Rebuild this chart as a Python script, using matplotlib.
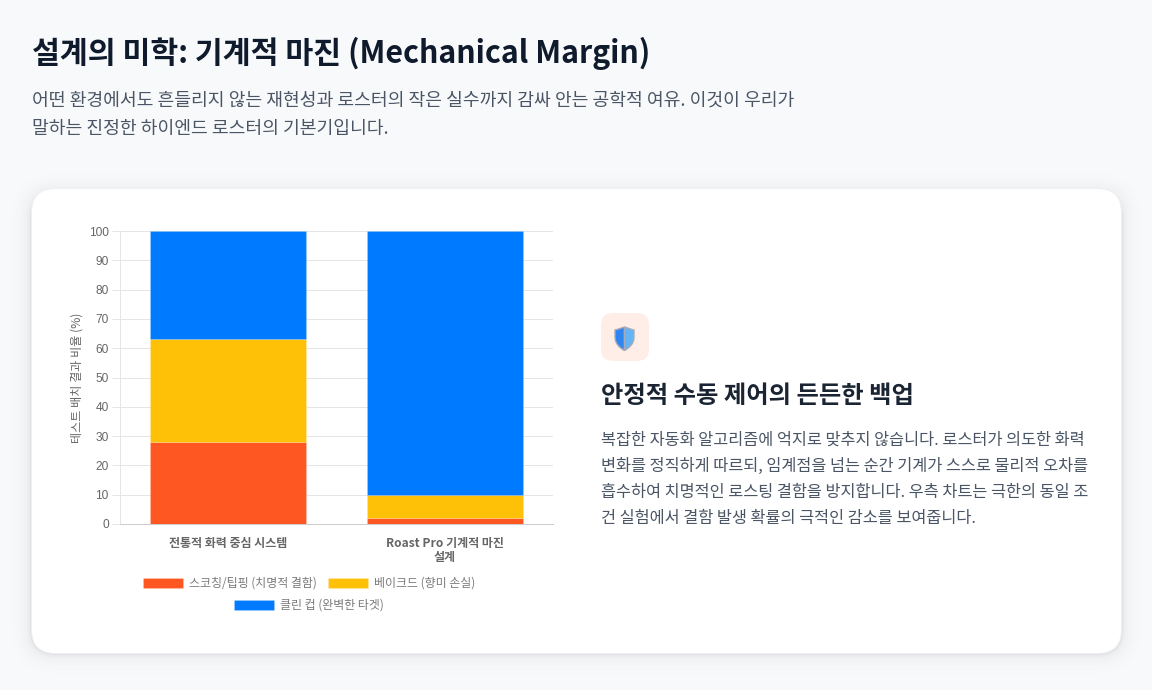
import matplotlib
matplotlib.use("Agg")
import matplotlib.pyplot as plt
from matplotlib.patches import FancyBboxPatch, PathPatch
from matplotlib.path import Path

plt.rcParams['font.family'] = ['Noto Sans CJK KR', 'DejaVu Sans']

categories = ['전통적 화력 중심 시스템', 'Roast Pro 기계적 마진\n설계']
scorching = [28, 2]
baked = [35, 8]
clean_cup = [37, 90]
series_names = ['스코칭/팁핑 (치명적 결함)', '베이크드 (향미 손실)', '클린 컵 (완벽한 타겟)']
series_colors = ['#FF5722', '#FFC107', '#007BFF']
y_ticks = list(range(0, 101, 10))

title = '설계의 미학: 기계적 마진 (Mechanical Margin)'
intro = ['어떤 환경에서도 흔들리지 않는 재현성과 로스터의 작은 실수까지 감싸 안는 공학적 여유. 이것이 우리가',
         '말하는 진정한 하이엔드 로스터의 기본기입니다.']
side_title = '안정적 수동 제어의 든든한 백업'
side_lines = ['복잡한 자동화 알고리즘에 억지로 맞추지 않습니다. 로스터가 의도한 화력',
              '변화를 정직하게 따르되, 임계점을 넘는 순간 기계가 스스로 물리적 오차를',
              '흡수하여 치명적인 로스팅 결함을 방지합니다. 우측 차트는 극한의 동일 조',
              '건 실험에서 결함 발생 확률의 극적인 감소를 보여줍니다.']

W, H = 1152, 690
fig = plt.figure(figsize=(W / 100, H / 100), dpi=100, facecolor='#F8F9FB')

# page layer in pixel coordinates, y pointing down
bg = fig.add_axes([0, 0, 1, 1], zorder=0)
bg.set_xlim(0, W)
bg.set_ylim(H, 0)
bg.axis('off')

# soft card shadow
for grow, alpha in [(20, 0.004), (16, 0.005), (12, 0.006), (9, 0.007), (6, 0.009), (4, 0.014), (2, 0.022), (1, 0.035)]:
    bg.add_patch(FancyBboxPatch((31.5 - grow, 193 - grow), 1090 + 2 * grow, 460.5 + 2 * grow,
                                boxstyle=f'round,pad=0,rounding_size={24 + grow}',
                                fc='black', ec='none', alpha=alpha))
bg.add_patch(FancyBboxPatch((31.5, 188.5), 1090, 465, boxstyle='round,pad=0,rounding_size=24',
                            fc='white', ec='#EEF0F3', lw=0.72))

bg.text(32, 53, title, fontsize=21.8, fontweight='bold', color='#0F1B2D', va='center')
bg.text(32, 101, intro[0], fontsize=13.15, color='#4A5565', va='center')
bg.text(32, 129, intro[1], fontsize=13.15, color='#4A5565', va='center')

# shield icon
bg.add_patch(FancyBboxPatch((601, 313), 48, 48, boxstyle='round,pad=0,rounding_size=12',
                            fc='#FFEEE8', ec='none'))
left = Path([(624.5, 327), (617, 329.5), (615, 330), (615, 337), (615, 344), (620, 348), (624.5, 350.5), (624.5, 327)],
            [Path.MOVETO, Path.LINETO, Path.LINETO, Path.LINETO, Path.CURVE4, Path.CURVE4, Path.CURVE4, Path.CLOSEPOLY])
right = Path([(624.5, 327), (632, 329.5), (634, 330), (634, 337), (634, 344), (629, 348), (624.5, 350.5), (624.5, 327)],
             [Path.MOVETO, Path.LINETO, Path.LINETO, Path.LINETO, Path.CURVE4, Path.CURVE4, Path.CURVE4, Path.CLOSEPOLY])
bg.add_patch(PathPatch(left, fc='#2F86F0', ec='#A9A9B8', lw=1.0))
bg.add_patch(PathPatch(right, fc='#64B5F6', ec='#A9A9B8', lw=1.0))

bg.text(601, 396, side_title, fontsize=17.5, fontweight='bold', color='#1A2433', va='center')
for i, line in enumerate(side_lines):
    bg.text(601, 440 + i * 26.3, line, fontsize=11.75, color='#4A5565', va='center')

# chart
ax = fig.add_axes([120 / W, 1 - 524 / H, (553 - 120) / W, (524 - 231) / H], zorder=1)
ax.patch.set_alpha(0)
x = range(len(categories))
bottom1 = scorching
bottom2 = [a + b for a, b in zip(scorching, baked)]
bars = []
for vals, bot, color, name in zip([scorching, baked, clean_cup], [None, bottom1, bottom2],
                                  series_colors, series_names):
    bars.append(ax.bar(x, vals, width=0.72, bottom=bot, color=color, label=name,
                       edgecolor=(1, 1, 1, 0.15), linewidth=0.72, zorder=2))
ax.set_xlim(-0.5, 1.5)
ax.set_ylim(0, 100)
ax.set_yticks(y_ticks)
ax.set_xticks(list(x))
ax.set_xticklabels(categories, fontsize=8.65, fontweight='bold', color='#666666', linespacing=1.2)
ax.tick_params(axis='x', length=0, pad=9)
ax.tick_params(axis='y', length=5.76, width=0.72, color='#E5E5E5', pad=2.4, labelcolor='#666666')
for lab in ax.get_yticklabels():
    lab.set_fontfamily(['Liberation Sans', 'DejaVu Sans'])
    lab.set_fontsize(8.6)
ax.grid(axis='y', color='#E5E5E5', lw=0.72, zorder=0)
ax.set_axisbelow(True)
for s in ['top', 'right']:
    ax.spines[s].set_visible(False)
ax.spines['left'].set_color('#E5E5E5')
ax.spines['left'].set_linewidth(0.72)
ax.spines['bottom'].set_color('#CCCCCC')
ax.spines['bottom'].set_linewidth(0.72)
ax.set_ylabel('테스트 배치 결과 비율 (%)', fontsize=8.7, color='#666666', labelpad=4)

legend_style = dict(frameon=False, fontsize=8.6, labelcolor='#7A7A7A', handlelength=3.35, handleheight=1.0,
                    handletextpad=0.5, columnspacing=0.92, borderpad=0, borderaxespad=0,
                    bbox_transform=fig.transFigure, loc='center')
leg1 = ax.legend(bars[:2], series_names[:2], ncol=2, bbox_to_anchor=(309 / W, 1 - 583.5 / H), **legend_style)
ax.add_artist(leg1)
ax.legend(bars[2:], series_names[2:], ncol=1, bbox_to_anchor=(309 / W, 1 - 605.5 / H), **legend_style)

fig.savefig('out.png', dpi=100, facecolor=fig.get_facecolor())
